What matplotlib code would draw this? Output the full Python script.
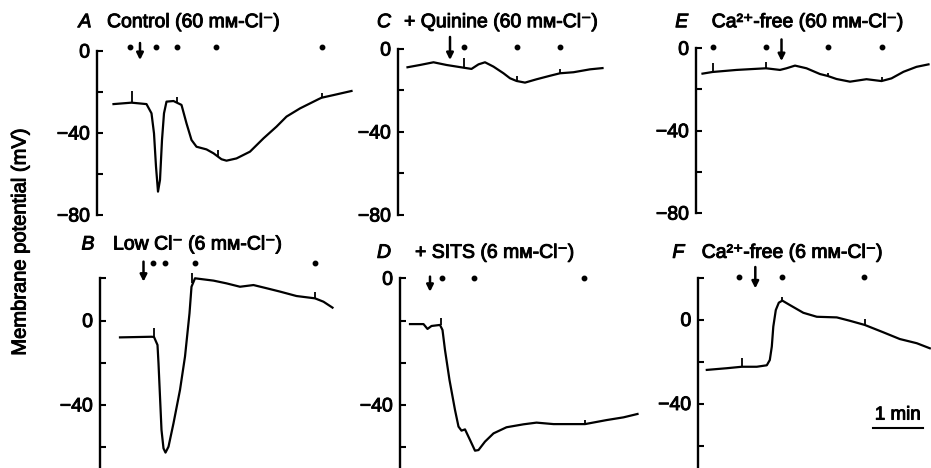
import matplotlib
matplotlib.use("Agg")
import matplotlib.pyplot as plt
import matplotlib.patheffects as pe

FONT = ["Liberation Sans", "DejaVu Sans"]
plt.rcParams["font.family"] = FONT
plt.rcParams["axes.unicode_minus"] = True

W, H = 931, 468
PX_PER_MIN = 50.0

# ---------------- data (time in min from the voltage axis, potential in mV) ----------------
# A  Control (60 mM-Cl-)
a_t = [0.33, 0.69, 0.99, 1.09, 1.14, 1.18, 1.22, 1.26, 1.30, 1.34, 1.39, 1.53, 1.69, 1.79, 1.89,
       1.99, 2.19, 2.33, 2.49, 2.59, 2.79, 3.06, 3.33, 3.59, 3.79, 4.06, 4.43, 4.49, 4.73, 5.09]
a_v = [-25.9, -25.2, -25.9, -30.4, -40.2, -56.4, -68.6, -62.9, -43.4, -30.4, -24.7, -24.4, -26.3,
       -35.3, -43.4, -46.7, -48.0, -49.9, -52.8, -53.5, -52.4, -49.1, -42.6, -36.9, -32.0, -28.0,
       -23.5, -22.8, -21.5, -19.5]
a_tick_t = [0.69, 1.59, 2.41, 4.49]
a_tick_base = [-25.2, -24.9, -51.2, -22.8]
a_tick_top = [-19.4, -22.4, -48.3, -20.3]
a_dots = [0.66, 1.18, 1.59, 2.38, 4.49]
a_dot_v = 2.1
a_arrow = (0.86, 3.9, -4.4)

# B  Low Cl- (6 mM-Cl-)
b_t = [0.40, 1.03, 1.08, 1.15, 1.17, 1.20, 1.23, 1.27, 1.31, 1.37, 1.47, 1.60, 1.70, 1.79, 1.83,
       1.90, 2.27, 2.53, 2.80, 3.07, 3.33, 3.60, 3.93, 4.30, 4.47, 4.65]
b_v = [-8.0, -7.7, -7.8, -11.6, -20.3, -36.1, -51.9, -60.6, -62.6, -59.8, -48.7, -32.9, -17.1, 3.4,
       16.0, 20.0, 18.9, 17.6, 16.0, 16.8, 15.3, 13.7, 11.6, 10.5, 8.9, 6.1]
b_tick_t = [1.08, 1.85, 4.30]
b_tick_base = [-7.8, 18.0, 10.5]
b_tick_top = [-3.7, 22.4, 13.6]
b_dots = [1.05, 1.30, 1.90, 4.30]
b_dot_v = 27.4
b_arrow = (0.87, 27.9, 18.4)

# C  + Quinine (60 mM-Cl-)
c_t = [0.19, 0.44, 0.71, 0.97, 1.31, 1.47, 1.61, 1.74, 1.91, 2.11, 2.24, 2.37, 2.54, 2.77, 3.04,
       3.24, 3.51, 3.84, 4.09]
c_v = [-8.8, -7.7, -6.4, -7.7, -9.0, -9.6, -7.4, -6.4, -8.5, -11.7, -14.1, -15.4, -16.2, -14.6,
       -12.9, -11.7, -11.2, -9.8, -9.2]
c_tick_t = [1.31, 2.37, 3.24]
c_tick_base = [-9.0, -15.4, -11.7]
c_tick_top = [-4.5, -13.0, -9.6]
c_dots = [1.31, 2.37, 3.24]
c_dot_v = 1.1
c_arrow = (1.04, 5.8, -5.3)

# D  + SITS (6 mM-Cl-)
d_t = [0.20, 0.47, 0.55, 0.63, 0.80, 0.85, 0.90, 0.99, 1.10, 1.17, 1.23, 1.30, 1.40, 1.50, 1.57,
       1.70, 1.87, 2.13, 2.47, 2.73, 3.07, 3.70, 4.13, 4.47, 4.75]
d_v = [-1.7, -1.7, -4.0, -2.6, -2.1, -4.5, -14.0, -28.2, -42.4, -50.3, -52.2, -51.6, -56.6, -61.7,
       -61.4, -57.4, -53.5, -50.6, -49.2, -48.4, -49.1, -49.1, -47.2, -45.9, -44.3]
d_tick_t = [0.81, 3.70]
d_tick_base = [-2.1, -49.1]
d_tick_top = [1.0, -47.0]
d_dots = [0.83, 1.48, 3.67]
d_dot_v = 20.3
d_arrow = (0.60, 20.8, 13.6)

# E  Ca2+-free (60 mM-Cl-)
e_t = [0.13, 0.33, 0.81, 1.40, 1.68, 1.81, 1.98, 2.21, 2.48, 2.63, 2.81, 3.08, 3.41, 3.71, 3.91,
       4.15, 4.41, 4.65]
e_v = [-12.3, -11.5, -10.5, -9.7, -10.5, -9.7, -8.4, -9.7, -12.5, -13.4, -14.9, -16.2, -15.0, -15.9,
       -14.6, -11.4, -9.0, -7.8]
e_tick_t = [0.33, 1.40, 2.63, 3.71]
e_tick_base = [-11.5, -9.7, -13.4, -15.9]
e_tick_top = [-7.3, -6.5, -11.8, -13.8]
e_dots = [0.33, 1.40, 2.63, 3.71]
e_dot_v = 0.8
e_arrow = (1.71, 4.3, -6.2)

# F  Ca2+-free (6 mM-Cl-)
f_t = [0.17, 0.57, 0.87, 1.17, 1.37, 1.43, 1.47, 1.50, 1.55, 1.61, 1.68, 1.83, 2.10, 2.37, 2.77,
       3.03, 3.33, 3.70, 4.03, 4.37, 4.63]
f_v = [-24.0, -23.2, -22.5, -22.5, -21.8, -19.3, -12.9, -3.4, 4.5, 8.0, 9.0, 6.9, 3.2, 1.3, 1.0,
       -0.6, -2.6, -6.1, -9.3, -11.3, -13.7]
f_tick_t = [0.87, 1.68, 3.33]
f_tick_base = [-22.5, 9.0, -2.6]
f_tick_top = [-18.5, 10.6, 0.2]
f_dots = [0.82, 1.68, 3.32]
f_dot_v = 20.4
f_arrow = (1.14, 25.0, 14.8)

# scale bar (1 min) in panel F
scale_t = [3.49, 4.49]
scale_v = -51.8
scale_label = "1 min"

letters = ["A", "B", "C", "D", "E", "F"]
titles = ["Control (60 mᴍ-Cl⁻)", "Low Cl⁻ (6 mᴍ-Cl⁻)", "+ Quinine (60 mᴍ-Cl⁻)",
          "+ SITS (6 mᴍ-Cl⁻)", "Ca²⁺-free (60 mᴍ-Cl⁻)", "Ca²⁺-free (6 mᴍ-Cl⁻)"]
ylabel = "Membrane potential (mV)"

top_ticks = [0, -20, -40, -60, -80]
top_labels = ["0", "", "−40", "", "−80"]
bot_ticks = [20, 0, -20, -40, -60]
bot_labels = ["", "0", "", "−40", ""]
d_labels = ["0", "", "", "−40", ""]

# ---------------- layout (pixels) ----------------
fig = plt.figure(figsize=(W / 100, H / 100), dpi=100)
HEAVY = [pe.withStroke(linewidth=0.7, foreground="black")]

def make_axes(x_sp, x_right, y_top, y_bot, y0, k):
    ax = fig.add_axes([x_sp / W, 1 - y_bot / H, (x_right - x_sp) / W, (y_bot - y_top) / H])
    ax.set_xlim(0, (x_right - x_sp) / PX_PER_MIN)
    ax.set_ylim(-(y_bot - y0) / k, (y0 - y_top) / k)
    ax.patch.set_visible(False)
    for s in ["top", "right", "bottom"]:
        ax.spines[s].set_visible(False)
    ax.spines["left"].set_linewidth(1.7)
    ax.set_xticks([])
    ax.tick_params(axis="y", direction="in", length=4, width=1.5, pad=5, labelsize=14)
    return ax

def draw(ax, t, v, tick_t, tick_base, tick_top, dots, dot_v, arrow):
    ax.plot(t, v, color="black", lw=1.6, solid_joinstyle="round", clip_on=False)
    ax.vlines(tick_t, tick_base, tick_top, color="black", lw=1.3, clip_on=False)
    ax.plot(dots, [dot_v] * len(dots), "o", color="black", ms=3.2, clip_on=False)
    at, v0, v1 = arrow
    ax.annotate("", xy=(at, v1), xytext=(at, v0), annotation_clip=False,
                arrowprops=dict(arrowstyle="-|>", color="black", lw=1.8,
                                mutation_scale=10, shrinkA=0, shrinkB=0))

panels = {
    "A": dict(box=(97, 365, 38, 220, 51.0, 2.05), data=(a_t, a_v, a_tick_t, a_tick_base, a_tick_top, a_dots, a_dot_v, a_arrow)),
    "C": dict(box=(398, 615, 38, 220, 49.0, 2.075), data=(c_t, c_v, c_tick_t, c_tick_base, c_tick_top, c_dots, c_dot_v, c_arrow)),
    "E": dict(box=(696, 931, 38, 220, 48.3, 2.06), data=(e_t, e_v, e_tick_t, e_tick_base, e_tick_top, e_dots, e_dot_v, e_arrow)),
    "B": dict(box=(100, 345, 268, 468, 320.5, 2.11), data=(b_t, b_v, b_tick_t, b_tick_base, b_tick_top, b_dots, b_dot_v, b_arrow)),
    "D": dict(box=(400, 645, 268, 468, 320.5, 2.11), data=(d_t, d_v, d_tick_t, d_tick_base, d_tick_top, d_dots, d_dot_v, d_arrow)),
    "F": dict(box=(698.3, 931, 268, 468, 319.5, 2.10), data=(f_t, f_v, f_tick_t, f_tick_base, f_tick_top, f_dots, f_dot_v, f_arrow)),
}

axes = {}
for name, p in panels.items():
    ax = make_axes(*p["box"])
    if name in "ACE":
        ax.spines["left"].set_bounds(-80, 0)
        ax.set_yticks(top_ticks)
        ax.set_yticklabels(top_labels)
    else:
        ax.spines["left"].set_bounds(-80, 20)
        ax.set_yticks(bot_ticks)
        ax.set_yticklabels(d_labels if name == "D" else bot_labels)
    for lab in ax.get_yticklabels():
        lab.set_path_effects(HEAVY)
    draw(ax, *p["data"])
    axes[name] = ax

# scale bar
axF = axes["F"]
axF.plot(scale_t, [scale_v, scale_v], color="black", lw=1.5, clip_on=False)
axF.text(sum(scale_t) / 2, scale_v + 6.3, scale_label, ha="center", va="center", fontsize=13.5,
         path_effects=HEAVY)

# panel titles (pixel positions)
title_pos = {"A": (85, 107, 22.7), "B": (88, 113, 245), "C": (384, 404, 22.7),
             "D": (384, 415, 253.3), "E": (681.7, 711.7, 22.7), "F": (678.3, 701.7, 253.3)}
for letter, title in zip(letters, titles):
    xl, xt, y = title_pos[letter]
    fig.text(xl / W, 1 - y / H, letter, ha="center", va="center", fontsize=14, style="italic",
             path_effects=HEAVY)
    fig.text(xt / W, 1 - y / H, title, ha="left", va="center", fontsize=14, path_effects=HEAVY)

fig.text(20 / W, 1 - 242 / H, ylabel, rotation=90, ha="center", va="center", fontsize=14.5,
         path_effects=HEAVY)

fig.savefig("out.png", dpi=100)
